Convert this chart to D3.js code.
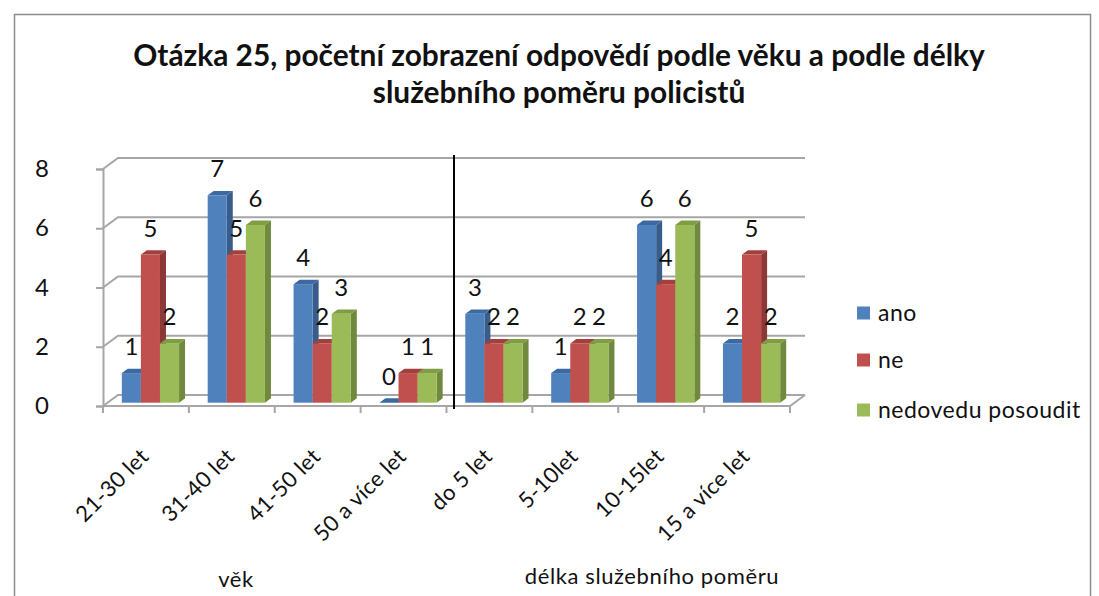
<!DOCTYPE html>
<html>
<head>
<meta charset="utf-8">
<script src="https://cdn.jsdelivr.net/npm/d3@7"></script>
<style>
  body { margin: 0; background: #fff; }
  text { font-family: Lato, "Open Sans", sans-serif; fill: #111; }
</style>
</head>
<body>
<div id="chart"></div>
<script>
// data
const categories = ["21-30 let", "31-40 let", "41-50 let", "50 a více let",
                    "do 5 let", "5-10let", "10-15let", "15 a více let"];
const seriesNames = ["ano", "ne", "nedovedu posoudit"];
const ano = [1, 7, 4, 0, 3, 1, 6, 2];
const ne = [5, 5, 2, 1, 2, 2, 4, 5];
const nedovedu = [2, 6, 3, 1, 2, 2, 6, 2];
const yTicks = [0, 2, 4, 6, 8];
const groupTitles = ["věk", "délka služebního poměru"];
const titleLines = ["Otázka 25, početní zobrazení odpovědí podle věku a podle délky",
                    "služebního poměru policistů"];

const seriesValues = [ano, ne, nedovedu];
const colors = ["#4F81BD", "#C0504D", "#9BBB59"];
const sideColors = ["#385D8A", "#8C3836", "#71893F"];
const topColors = ["#3B6AA3", "#A3403D", "#7F9E44"];

const W = 1099, H = 596;
// depth vector of the 3D floor
const DX = 15, DY = -11;

const svg = d3.select("#chart").append("svg")
  .attr("width", W).attr("height", H);

// outer frame
svg.append("rect")
  .attr("x", 14.5).attr("y", 14.5)
  .attr("width", 1076).attr("height", 600)
  .attr("fill", "none").attr("stroke", "#8c8c8c").attr("stroke-width", 1.5);

// title, sized to the original width
const title = svg.append("text")
  .attr("text-anchor", "middle")
  .style("font-weight", "bold");
titleLines.forEach((t, i) => {
  title.append("tspan").attr("x", 559).attr("y", 66 + i * 37).text(t);
});
title.style("font-size", "24px");
const tw = title.select("tspan").node().getComputedTextLength();
title.style("font-size", (24 * 852 / tw) + "px");

const x = d3.scaleBand().domain(categories).range([103, 790]);
const y = d3.scaleLinear().domain([0, 8]).range([406, 169]);
const bw = x.bandwidth() / 4.5;

const grid = svg.append("g");
// back wall gridlines with the diagonal on the side wall
yTicks.forEach(t => {
  grid.append("path")
    .attr("d", d3.line()([[103, y(t)], [103 + DX, y(t) + DY], [790 + DX, y(t) + DY]]))
    .attr("fill", "none").attr("stroke", "#a6a6a6").attr("stroke-width", 2);
});
// floor front edge
grid.append("path")
  .attr("d", d3.line()([[103, y(0)], [790, y(0)], [790 + DX, y(0) + DY]]))
  .attr("fill", "none").attr("stroke", "#a6a6a6").attr("stroke-width", 2);

// value axis on the front
const yAxis = svg.append("g")
  .attr("transform", "translate(103,0)")
  .call(d3.axisLeft(y).tickValues(yTicks).tickSize(7));
yAxis.select(".domain").attr("stroke", "#a6a6a6").attr("stroke-width", 2);
yAxis.selectAll(".tick line").attr("stroke", "#a6a6a6").attr("stroke-width", 2);
yAxis.selectAll(".tick text").style("font-size", "24px").attr("fill", "#111")
  .attr("text-anchor", "middle").attr("x", -61);

// category axis ticks
const xAxis = svg.append("g")
  .attr("transform", `translate(0,${y(0)})`)
  .call(d3.axisBottom(x).tickSize(0).tickFormat(""));
xAxis.select(".domain").remove();
xAxis.selectAll(".cut")
  .data(d3.range(categories.length + 1))
  .join("line")
  .attr("x1", i => 103 + i * x.bandwidth())
  .attr("x2", i => 103 + i * x.bandwidth())
  .attr("y1", 0).attr("y2", 7)
  .attr("stroke", "#a6a6a6").attr("stroke-width", 2);

// bars
const f0 = 0.3, bd = 0.4;
const bars = svg.append("g");
const labels = [];
categories.forEach((c, ci) => {
  seriesValues.forEach((vals, si) => {
    const v = vals[ci];
    const fx = x(c) + bw * (0.75 + si) + f0 * DX;
    const fyB = y(0) + f0 * DY;
    const fyT = y(v) + f0 * DY;
    const ox = bd * DX, oy = bd * DY;
    // side face
    bars.append("path")
      .attr("d", d3.line()([[fx + bw, fyT], [fx + bw + ox, fyT + oy], [fx + bw + ox, fyB + oy], [fx + bw, fyB]]) + "Z")
      .attr("fill", sideColors[si]);
    // front face
    if (v > 0) {
      bars.append("rect")
        .attr("x", fx).attr("y", fyT)
        .attr("width", bw).attr("height", fyB - fyT)
        .attr("fill", colors[si]);
    }
    // top face
    bars.append("path")
      .attr("d", d3.line()([[fx, fyT], [fx + ox, fyT + oy], [fx + bw + ox, fyT + oy], [fx + bw, fyT]]) + "Z")
      .attr("fill", topColors[si]);
    labels.push({ x: fx + bw / 2, y: fyT - 18, v: v });
  });
});

// separator between the two groups
const sepX = x("do 5 let") + 0.5 * DX;
svg.append("line")
  .attr("x1", sepX).attr("x2", sepX)
  .attr("y1", 155).attr("y2", 409)
  .attr("stroke", "#000").attr("stroke-width", 2);

// data labels
svg.append("g").selectAll("text")
  .data(labels)
  .join("text")
  .attr("x", d => d.x).attr("y", d => d.y)
  .attr("text-anchor", "middle")
  .style("font-size", "24px")
  .text(d => d.v);

// category labels rotated
svg.append("g").selectAll("text")
  .data(categories)
  .join("text")
  .attr("text-anchor", "end")
  .attr("transform", d => `translate(${x(d) + x.bandwidth() / 2 + 4},458) rotate(-45)`)
  .style("font-size", "22px")
  .style("letter-spacing", "0.3px")
  .text(d => d);

// group titles
svg.append("text").attr("x", 236).attr("y", 587).attr("text-anchor", "middle")
  .style("font-size", "22px").style("letter-spacing", "0.6px").text(groupTitles[0]);
svg.append("text").attr("x", 652).attr("y", 584).attr("text-anchor", "middle")
  .style("font-size", "22px").style("letter-spacing", "0.6px").text(groupTitles[1]);

// legend
const legend = svg.append("g");
seriesNames.forEach((n, i) => {
  const ly = [313, 360, 410][i];
  legend.append("rect").attr("x", 857).attr("y", ly - 6.5)
    .attr("width", 13).attr("height", 13).attr("fill", colors[i]);
  legend.append("text").attr("x", 878).attr("y", ly + 8)
    .style("font-size", "23px").style("letter-spacing", "0.5px").text(n);
});
</script>
</body>
</html>
